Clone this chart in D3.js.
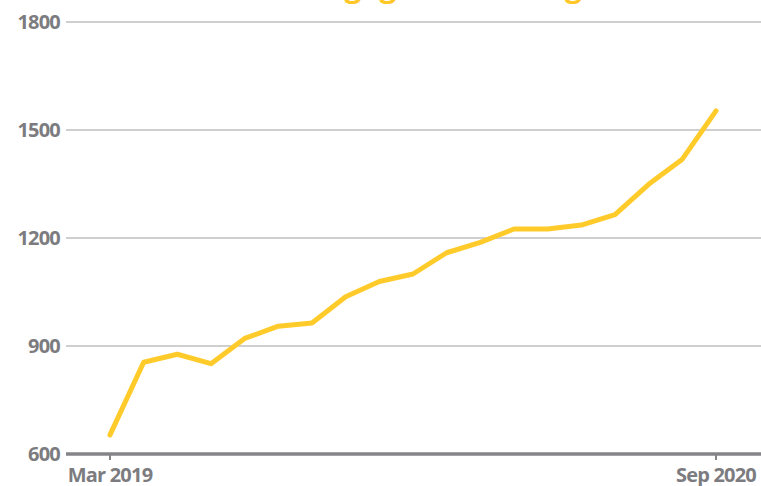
<!DOCTYPE html>
<html>
<head>
<meta charset="utf-8">
<script src="https://cdn.jsdelivr.net/npm/d3@7"></script>
<style>
  html, body { margin: 0; padding: 0; background: #ffffff; }
  svg { display: block; }
</style>
</head>
<body>
<svg id="chart" width="761" height="486"></svg>
<script>
const titleText = "Mortgage debt rising";
const months = ["Mar 2019","Apr 2019","May 2019","Jun 2019","Jul 2019","Aug 2019","Sep 2019","Oct 2019","Nov 2019","Dec 2019","Jan 2020","Feb 2020","Mar 2020","Apr 2020","May 2020","Jun 2020","Jul 2020","Aug 2020","Sep 2020"];
const values = [653, 855, 877, 851, 921, 955, 964, 1037, 1079, 1100, 1159, 1188, 1225, 1225, 1236, 1265, 1349, 1419, 1553];
const yTicks = [600, 900, 1200, 1500, 1800];
const xTickLabels = ["Mar 2019", "Sep 2020"];

const svg = d3.select("#chart");
const font = "'Open Sans', 'Fira Sans', sans-serif";
const grey = "#7c7c80";

const x = d3.scalePoint().domain(months).range([110, 716]);
const y = d3.scaleLinear().domain([600, 1800]).range([454, 22]);

// title (mostly cropped above the visible area)
svg.append("text")
  .attr("x", 271).attr("y", -3)
  .attr("font-family", font).attr("font-weight", 700).attr("font-size", 30)
  .attr("fill", "#ffc727")
  .text(titleText);

// gridlines
svg.append("g").selectAll("line")
  .data(yTicks.filter(d => d !== 600))
  .join("line")
  .attr("x1", 66).attr("x2", 761)
  .attr("y1", d => y(d)).attr("y2", d => y(d))
  .attr("stroke", "#bfbfc1").attr("stroke-width", 1.5);

// y labels
svg.append("g").selectAll("text")
  .data(yTicks)
  .join("text")
  .attr("x", 60).attr("y", d => y(d))
  .attr("dy", "0.36em")
  .attr("text-anchor", "end")
  .attr("font-family", font).attr("font-weight", 700).attr("font-size", 20)
  .attr("letter-spacing", "-0.8px")
  .attr("fill", grey)
  .text(d => d);

// baseline
svg.append("line")
  .attr("x1", 66).attr("x2", 761)
  .attr("y1", y(600)).attr("y2", y(600))
  .attr("stroke", "#858589").attr("stroke-width", 3.5);

// x ticks + labels
const xg = svg.append("g").selectAll("g")
  .data(xTickLabels)
  .join("g")
  .attr("transform", d => `translate(${x(d)},0)`);
xg.append("line")
  .attr("y1", y(600)).attr("y2", y(600) + 6)
  .attr("stroke", "#858589").attr("stroke-width", 2);
xg.append("text")
  .attr("y", 482)
  .attr("text-anchor", "middle")
  .attr("font-family", font).attr("font-weight", 700).attr("font-size", 20)
  .attr("letter-spacing", "-0.8px")
  .attr("fill", grey)
  .text(d => d);

// line
const line = d3.line()
  .x((d, i) => x(months[i]))
  .y(d => y(d));
svg.append("path")
  .datum(values)
  .attr("d", line)
  .attr("fill", "none")
  .attr("stroke", "#ffcb2b")
  .attr("stroke-width", 5)
  .attr("stroke-linejoin", "round")
  .attr("stroke-linecap", "round");
</script>
</body>
</html>
